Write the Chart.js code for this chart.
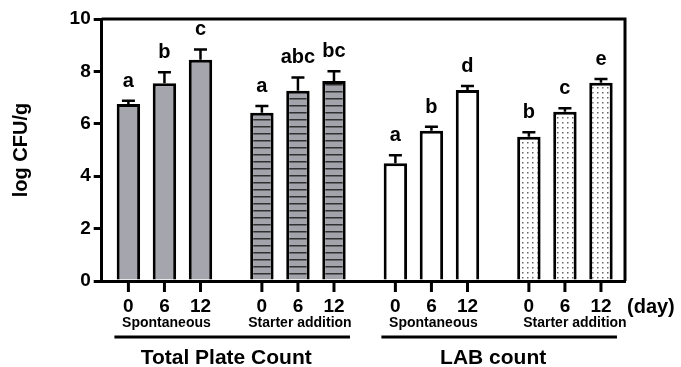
<!DOCTYPE html>
<html>
<head>
<meta charset="utf-8">
<script src="https://cdn.jsdelivr.net/npm/chart.js@4.4.1/dist/chart.umd.min.js"></script>
<style>
  body { margin: 0; background: #fff; }
  #wrap { width: 681px; height: 367px; }
</style>
</head>
<body>
<div id="wrap"><canvas id="chart"></canvas></div>
<script>
  // groups along the x axis (two per count type)
  const groups = ['Spontaneous', 'Starter addition', 'Spontaneous', 'Starter addition'];
  const countTitles = ['Total Plate Count', 'LAB count'];
  const days = ['0', '6', '12'];

  // log CFU/g per group, one array per sampling day
  const day0Values = [6.76, 6.42, 4.49, 5.51];
  const day6Values = [7.55, 7.26, 5.73, 6.46];
  const day12Values = [8.44, 7.63, 7.29, 7.57];

  // upper error (SD)
  const day0Errors = [0.12, 0.26, 0.31, 0.17];
  const day6Errors = [0.42, 0.51, 0.16, 0.13];
  const day12Errors = [0.40, 0.38, 0.15, 0.14];

  // significance letters
  const day0Letters = ['a', 'a', 'a', 'b'];
  const day6Letters = ['b', 'abc', 'b', 'c'];
  const day12Letters = ['c', 'bc', 'd', 'e'];

  const FONT = 'Liberation Sans, Arial, sans-serif';
  Chart.defaults.font.family = FONT;
  Chart.defaults.color = '#000';

  function stripes() {
    const c = document.createElement('canvas');
    c.width = 8; c.height = 7;
    const g = c.getContext('2d');
    g.fillStyle = '#a3a3ab';
    g.fillRect(0, 0, 8, 7);
    g.fillStyle = '#303030';
    g.fillRect(0, 0, 8, 1.5);
    return g.createPattern(c, 'repeat');
  }

  function dots() {
    const c = document.createElement('canvas');
    c.width = 5; c.height = 5;
    const g = c.getContext('2d');
    g.fillStyle = '#fff';
    g.fillRect(0, 0, 5, 5);
    g.fillStyle = '#666';
    g.fillRect(2, 2, 1.5, 1.5);
    return g.createPattern(c, 'repeat');
  }

  const fills = ['#a5a5ad', stripes(), '#ffffff', dots()];

  function makeSet(label, values, errors, letters) {
    return {
      label: label,
      data: values.map((v, i) => ({ x: i, y: v })),
      errors: errors,
      letters: letters,
      backgroundColor: fills,
      borderColor: '#000',
      borderWidth: 3,
      borderSkipped: 'start',
      categoryPercentage: 0.81,
      barPercentage: 0.65
    };
  }

  const decor = {
    id: 'decor',
    afterDatasetsDraw(chart) {
      const { ctx, chartArea: a, scales: { y } } = chart;
      ctx.save();
      ctx.strokeStyle = '#000';
      ctx.fillStyle = '#000';

      // box frame (top + right)
      ctx.lineWidth = 3;
      ctx.beginPath();
      ctx.moveTo(a.left, a.top);
      ctx.lineTo(a.right, a.top);
      ctx.lineTo(a.right, a.bottom);
      ctx.stroke();

      ctx.textAlign = 'center';
      chart.data.datasets.forEach((ds, di) => {
        chart.getDatasetMeta(di).data.forEach((bar, i) => {
          const top = y.getPixelForValue(ds.data[i].y + ds.errors[i]);
          // error bar
          ctx.lineWidth = 2.5;
          ctx.beginPath();
          ctx.moveTo(bar.x, bar.y);
          ctx.lineTo(bar.x, top);
          ctx.moveTo(bar.x - 6.5, top);
          ctx.lineTo(bar.x + 6.5, top);
          ctx.stroke();
          // letter
          ctx.font = 'bold 20px ' + FONT;
          ctx.textBaseline = 'alphabetic';
          ctx.fillText(ds.letters[i], bar.x, top - 14);
          // x tick mark + day label
          ctx.lineWidth = 3;
          ctx.beginPath();
          ctx.moveTo(bar.x, a.bottom);
          ctx.lineTo(bar.x, a.bottom + 11);
          ctx.stroke();
          ctx.font = 'bold 19px ' + FONT;
          ctx.textBaseline = 'middle';
          ctx.fillText(days[di], bar.x, a.bottom + 26);
        });
      });

      const m0 = chart.getDatasetMeta(0).data;
      const m1 = chart.getDatasetMeta(1).data;
      const m2 = chart.getDatasetMeta(2).data;

      // treatment labels under each group
      ctx.font = 'bold 14px ' + FONT;
      groups.forEach((g, i) => {
        const dx = i === 3 ? 10 : 2;
        ctx.fillText(g, m1[i].x + dx, a.bottom + 42);
      });

      // count type lines and titles
      countTitles.forEach((t, k) => {
        const x1 = m0[2 * k].x - 14;
        const x2 = m2[2 * k + 1].x + 16;
        ctx.lineWidth = 3;
        ctx.beginPath();
        ctx.moveTo(x1, a.bottom + 56);
        ctx.lineTo(x2, a.bottom + 56);
        ctx.stroke();
        ctx.font = 'bold 21px ' + FONT;
        ctx.fillText(t, (x1 + x2) / 2 - 6, a.bottom + 77);
      });

      ctx.font = 'bold 20px ' + FONT;
      ctx.textAlign = 'left';
      ctx.fillText('(day)', a.right + 2, a.bottom + 26);
      ctx.restore();
    }
  };

  new Chart(
    document.getElementById('chart'),
    {
      type: 'bar',
      data: {
        datasets: [
          makeSet('0', day0Values, day0Errors, day0Letters),
          makeSet('6', day6Values, day6Errors, day6Letters),
          makeSet('12', day12Values, day12Errors, day12Letters)
        ]
      },
      options: {
        responsive: true,
        maintainAspectRatio: false,
        animation: false,
        layout: {
          padding: { top: 19, right: 56, left: 0, bottom: 0 }
        },
        plugins: {
          legend: { display: false },
          tooltip: { enabled: false }
        },
        scales: {
          x: {
            type: 'linear',
            offset: false,
            min: -0.47,
            max: 3.45,
            ticks: { display: false, stepSize: 1, includeBounds: false },
            grid: { display: true, offset: false, drawOnChartArea: false, drawTicks: false },
            border: { display: true, color: '#000', width: 3 },
            afterFit: s => { s.height = 86; }
          },
          y: {
            min: 0,
            max: 10,
            ticks: {
              stepSize: 2,
              color: '#000',
              padding: 3,
              font: { size: 19, weight: 'bold' }
            },
            grid: {
              drawOnChartArea: false,
              drawTicks: true,
              tickLength: 8,
              lineWidth: 3,
              color: '#000'
            },
            border: { display: true, color: '#000', width: 3 },
            title: {
              display: true,
              text: 'log CFU/g',
              color: '#000',
              padding: { top: 9, bottom: 0 },
              font: { size: 20, weight: 'bold' }
            },
            afterFit: s => { s.width = 101.7; }
          }
        }
      },
      plugins: [decor]
    }
  );
</script>
</body>
</html>
